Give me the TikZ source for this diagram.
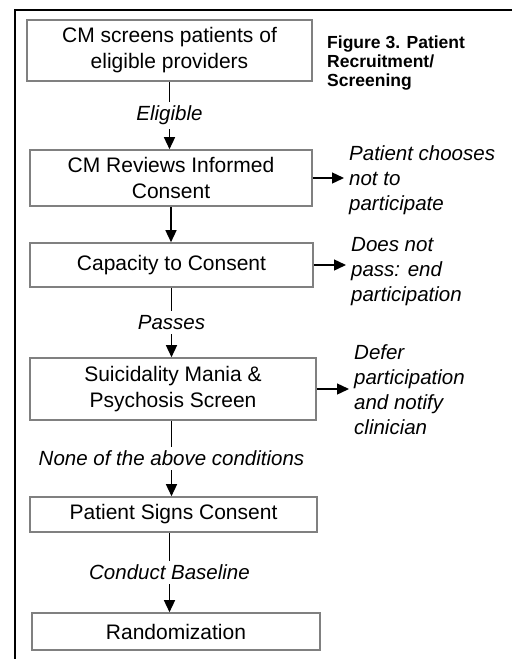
\documentclass[tikz,border=0pt]{standalone}
\usepackage{fontspec}
\setmainfont{Liberation Sans}
\usetikzlibrary{arrows.meta}
\tikzset{
    box/.style={draw=gray, line width=1.6pt, align=center, inner sep=0pt, font=\fontsize{21}{26}\selectfont},
    lbl/.style={fill=white, inner sep=4pt, font=\fontsize{20.5}{25}\selectfont\itshape},
    side/.style={anchor=west, align=left, inner sep=0pt, font=\fontsize{20.5}{25}\selectfont\itshape},
    arr/.style={line width=1.4pt, -{Triangle[length=12pt,width=11pt]}}
}
\begin{document}
\begin{tikzpicture}[x=1pt,y=-1pt]
    \useasboundingbox (0,0) rectangle (512,659);
    \draw[line width=2.5pt] (512,10) -- (15,10) -- (15,659);
    \node[box, minimum width=285pt, minimum height=61pt] (screen) at (169.5,50.5) {CM screens patients of\\eligible providers};
    \node[box, minimum width=282pt, minimum height=56pt] (review) at (171,178) {CM Reviews Informed\\Consent};
    \node[box, minimum width=283pt, minimum height=44pt] (capacity) at (171.5,265) {Capacity to Consent};
    \node[box, minimum width=286pt, minimum height=62pt] (suicide) at (173,389) {Suicidality Mania \&\\Psychosis Screen};
    \node[box, minimum width=287pt, minimum height=35pt] (signs) at (173.5,514.5) {Patient Signs Consent};
    \node[box, minimum width=288pt, minimum height=37pt] (random) at (176,631.5) {Randomization};
    \node[anchor=west, align=left, inner sep=0pt, font=\bfseries\fontsize{17.5}{19}\selectfont] (title) at (327,63) {Figure 3. Patient\\Recruitment/\\Screening};
    \node[side] (refuse) at (349,180) {Patient chooses\\not to\\participate};
    \node[side] (fail) at (351,272) {Does not\\pass: end\\participation};
    \node[side] (defer) at (354,390) {Defer\\participation\\and notify\\clinician};
    \draw[arr] (screen.south) -- node[lbl] {Eligible} (screen.south |- review.north);
    \draw[arr] (review.south) -- (review.south |- capacity.north);
    \draw[arr] (capacity.south) -- node[lbl] {Passes} (capacity.south |- suicide.north);
    \draw[arr] (suicide.south -| capacity.south) -- node[lbl] {None of the above conditions} (capacity.south |- signs.north);
    \draw[arr] (signs.south -| screen.south) -- node[lbl] {Conduct Baseline} (screen.south |- random.north);
    \draw[arr] (review.east) -- ([xshift=-5pt]review.east -| refuse.west);
    \draw[arr] (capacity.east) -- ([xshift=-5pt]capacity.east -| fail.west);
    \draw[arr] (suicide.east) -- ([xshift=-5pt]suicide.east -| defer.west);
\end{tikzpicture}
\end{document}
